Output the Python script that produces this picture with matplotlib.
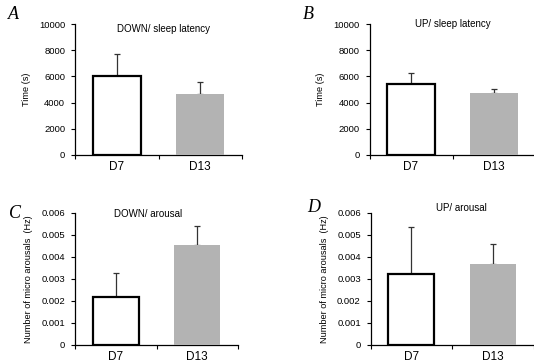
import numpy as np
import matplotlib
matplotlib.use("Agg")
import matplotlib.pyplot as plt

plt.rcParams['font.family'] = ['Liberation Sans', 'DejaVu Sans']

groups = ["D7", "D13"]

down_latency = [6050, 4650]
down_latency_err = [1650, 950]
up_latency = [5450, 4700]
up_latency_err = [780, 370]
down_arousal = [0.00218, 0.00455]
down_arousal_err = [0.00108, 0.00085]
up_arousal = [0.00322, 0.0037]
up_arousal_err = [0.00213, 0.0009]

latency_ticks = [0, 2000, 4000, 6000, 8000, 10000]
arousal_ticks = [0, 0.001, 0.002, 0.003, 0.004, 0.005, 0.006]

# letter, title, values, errors, ylabel, yticks, axes box (px), title pos, letter pos
panels = [
    ("A", "DOWN/ sleep latency", down_latency, down_latency_err, "Time (s)",
     latency_ticks, [75, 155, 167, 131], (0.53, 0.96), (-0.37, 1.07)),
    ("B", "UP/ sleep latency", up_latency, up_latency_err, "Time (s)",
     latency_ticks, [369.5, 155, 166, 131], (0.50, 1.0), (-0.37, 1.07)),
    ("C", "DOWN/ arousal", down_arousal, down_arousal_err,
     "Number of micro arousals  (Hz)",
     arousal_ticks, [75, 345, 163, 132], (0.45, 0.99), (-0.37, 1.0)),
    ("D", "UP/ arousal", up_arousal, up_arousal_err,
     "Number of micro arousals  (Hz)",
     arousal_ticks, [370.5, 345, 163, 132], (0.56, 1.04), (-0.35, 1.04)),
]

W, H = 534, 362


def tick_text(v):
    if v == 0:
        return "0"
    if isinstance(v, int):
        return str(v)
    return "%.3f" % v


def main():
    fig = plt.figure(figsize=(W / 100, H / 100), dpi=100)
    for letter, title, vals, errs, ylabel, yticks, box, tpos, lpos in panels:
        x0, yb, w, h = box
        ax = fig.add_axes([x0 / W, (H - yb) / H, w / W, h / H])
        x = np.arange(len(groups))
        ax.bar(x[0], vals[0], width=0.57, color="white", edgecolor="black",
               linewidth=1.6, zorder=3)
        ax.bar(x[1], vals[1], width=0.57, color="#b3b3b3", linewidth=0,
               zorder=3)
        for xi, v, e in zip(x, vals, errs):
            ax.errorbar(xi, v, yerr=[[0], [e]], color="#333333", lw=0.9,
                        capsize=2, capthick=0.9, zorder=2)
        ax.set_xlim(-0.5, 1.5)
        ax.set_ylim(yticks[0], yticks[-1])
        ax.set_yticks(yticks)
        ax.set_yticklabels([tick_text(t) for t in yticks], fontsize=6.8)
        ax.set_xticks(x)
        ax.set_xticklabels(groups, fontsize=8.5)
        ax.set_xticks([-0.5, 0.5, 1.5], minor=True)
        ax.tick_params(axis="x", which="major", length=0, pad=4.5)
        ax.tick_params(axis="x", which="minor", length=3, width=0.8,
                       direction="out")
        ax.tick_params(axis="y", length=3, width=0.8, direction="out", pad=4)
        for s in ["top", "right"]:
            ax.spines[s].set_visible(False)
        for s in ["left", "bottom"]:
            ax.spines[s].set_linewidth(0.9)
        ax.set_ylabel(ylabel, fontsize=6.6, labelpad=6)
        ax.text(tpos[0], tpos[1], title, transform=ax.transAxes, ha="center",
                va="center", fontsize=7)
        ax.text(lpos[0], lpos[1], letter, transform=ax.transAxes, ha="center",
                va="center", fontsize=13, family="Liberation Serif",
                style="italic")
    fig.savefig("out.png", dpi=100)


if __name__ == '__main__':
    main()
